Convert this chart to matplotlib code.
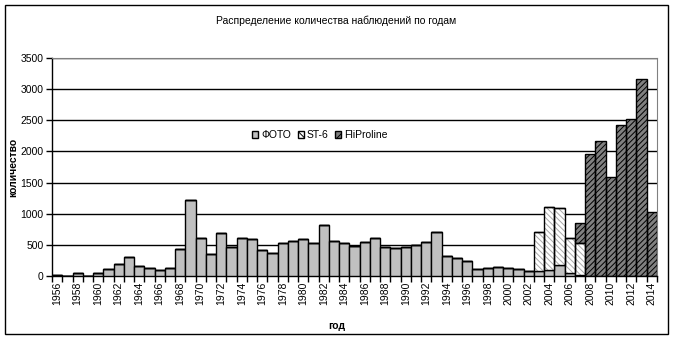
import numpy as np
import matplotlib.pyplot as plt
from matplotlib.patches import Rectangle

plt.rcParams['font.family'] = ['Liberation Sans', 'DejaVu Sans']
plt.rcParams['hatch.linewidth'] = 0.7

# observation counts per year, split by instrument
years = list(range(1956, 2015))
foto = [15, 0, 45, 0, 45, 107, 188, 300, 156, 124, 102, 124, 430, 1218, 607, 349,
        687, 462, 607, 591, 414, 365, 526, 559, 591, 526, 816, 559, 526, 478,
        543, 607, 462, 446, 462, 494, 543, 703, 317, 285, 237, 108, 124, 140,
        124, 108, 76, 76, 92, 172, 43, 10, 0, 0, 0, 0, 0, 0, 0]
st6 = [0] * 47 + [627, 1019, 918, 564, 516] + [0] * 7
fli = [0] * 51 + [322, 1959, 2173, 1589, 2426, 2523, 3167, 1026]

x = np.arange(len(years))
foto = np.array(foto)
st6 = np.array(st6)
fli = np.array(fli)

fig = plt.figure(figsize=(6.73, 3.4), dpi=100)
ax = fig.add_axes([52 / 673, 64 / 340, 605 / 673, 218 / 340])

# FOTO - plain grey
ax.bar(x, foto, width=1.0, color='#c0c0c0', edgecolor='black', linewidth=1.0,
       label='ФОТО', zorder=3)

# ST-6 - light hatch on white, outline drawn separately
ax.bar(x, st6, width=1.0, bottom=foto, color='white', edgecolor='#a8a8a8',
       hatch='\\\\\\\\\\\\', linewidth=0, zorder=3)
ax.bar(x, st6, width=1.0, bottom=foto, fill=False, edgecolor='black',
       linewidth=1.0, zorder=4)

# FliProline - dark hatch
ax.bar(x, fli, width=1.0, bottom=foto + st6, color='#808080', edgecolor='black',
       hatch='//////', linewidth=0, zorder=3)
ax.bar(x, fli, width=1.0, bottom=foto + st6, fill=False, edgecolor='black',
       linewidth=1.0, zorder=4)

ax.set_xlim(-0.5, len(years) - 0.5)
ax.set_ylim(0, 3500)
ax.set_yticks(np.arange(0, 3501, 500))
ax.yaxis.grid(True, color='black', linewidth=1.0, zorder=0)
ax.set_axisbelow(True)

ax.set_xticks(x[::2])
ax.set_xticklabels([str(y) for y in years[::2]], rotation=90, fontsize=7.5)
ax.set_xticks(np.arange(-0.5, len(years)), minor=True)
ax.tick_params(axis='x', which='major', length=0, pad=4)
ax.tick_params(axis='x', which='minor', length=4, width=1, direction='out')
ax.tick_params(axis='y', length=4, width=1, labelsize=7.5, pad=2)

ax.spines['top'].set_color('#808080')
ax.spines['right'].set_color('#808080')
ax.spines['left'].set_linewidth(1.0)
ax.spines['bottom'].set_linewidth(1.0)

ax.set_ylabel('количество', fontsize=7.5, fontweight='bold')
ax.yaxis.set_label_coords(-0.056, 0.5)
ax.set_xlabel('год', fontsize=7.5, fontweight='bold')
ax.xaxis.set_label_coords(0.47, -0.205)

fig.text(0.5, 1 - 21 / 340, 'Распределение количества наблюдений по годам',
         ha='center', va='center', fontsize=7.5)

# legend squares
h_foto = Rectangle((0, 0), 1, 1, facecolor='#c0c0c0', edgecolor='black')
h_st6 = Rectangle((0, 0), 1, 1, facecolor='white', edgecolor='black', hatch='\\\\\\\\')
h_fli = Rectangle((0, 0), 1, 1, facecolor='#808080', edgecolor='black', hatch='////')
ax.legend([h_foto, h_st6, h_fli], ['ФОТО', 'ST-6', 'FliProline'],
          loc='center', bbox_to_anchor=(0.443, 0.647), ncol=3, frameon=False,
          fontsize=7.5, handlelength=0.6, handleheight=0.6, handletextpad=0.3,
          columnspacing=0.6)

# outer chart border
fig.patches.append(Rectangle((5 / 673, 6 / 340), 663 / 673, 329 / 340,
                             transform=fig.transFigure, fill=False,
                             edgecolor='black', linewidth=1.0))

fig.savefig('out.png', dpi=100)
